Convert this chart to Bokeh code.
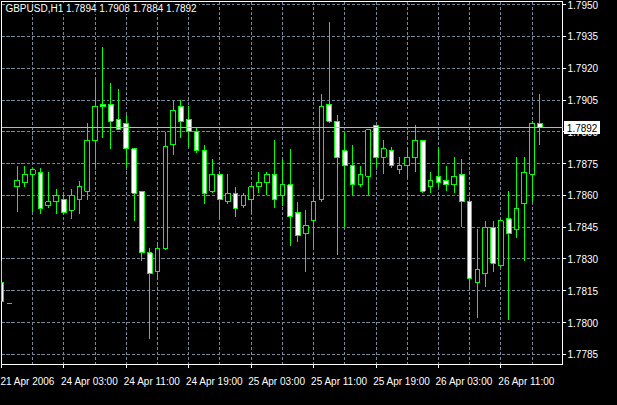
from bokeh.plotting import figure
from bokeh.models import (Range1d, FixedTicker, Span, Label, LinearAxis,
                          GlobalInlineStyleSheet, InlineStyleSheet, ColumnDataSource)
from bokeh.embed import file_html
from bokeh.resources import INLINE

symbol = "GBPUSD,H1"

opens = [1.7819, 1.7809, 1.7864, 1.7866, 1.7870, 1.7871, 1.7855, 1.7857, 1.7858, 1.7853,
         1.7858, 1.7862, 1.7886, 1.7903, 1.7903, 1.7896, 1.7894, 1.7882, 1.7862, 1.7833,
         1.7824, 1.7835, 1.7884, 1.7902, 1.7896, 1.7890, 1.7881, 1.7862, 1.7870, 1.7857,
         1.7861, 1.7855, 1.7858, 1.7864, 1.7866, 1.7870, 1.7860, 1.7865, 1.7852, 1.7842,
         1.7848, 1.7858, 1.7903, 1.7895, 1.7881, 1.7874, 1.7865, 1.7869, 1.7893, 1.7878,
         1.7881, 1.7872, 1.7874, 1.7878, 1.7886, 1.7864, 1.7869, 1.7867, 1.7865, 1.7870,
         1.7857, 1.7819, 1.7823, 1.7845, 1.7827, 1.7849, 1.7844, 1.7856, 1.7870, 1.7894]
highs = [1.7829, 1.7809, 1.7874, 1.7874, 1.7873, 1.7873, 1.7871, 1.7863, 1.7860, 1.7863,
         1.7867, 1.7894, 1.7915, 1.7930, 1.7913, 1.7910, 1.7898, 1.7882, 1.7862, 1.7835,
         1.7838, 1.7890, 1.7905, 1.7905, 1.7902, 1.7892, 1.7884, 1.7877, 1.7870, 1.7870,
         1.7864, 1.7861, 1.7865, 1.7871, 1.7871, 1.7886, 1.7877, 1.7882, 1.7857, 1.7853,
         1.7864, 1.7908, 1.7942, 1.7898, 1.7890, 1.7884, 1.7874, 1.7891, 1.7893, 1.7886,
         1.7883, 1.7878, 1.7883, 1.7893, 1.7886, 1.7871, 1.7883, 1.7874, 1.7878, 1.7877,
         1.7858, 1.7844, 1.7848, 1.7848, 1.7849, 1.7862, 1.7878, 1.7878, 1.7895, 1.7908]
lows = [1.7810, 1.7809, 1.7852, 1.7864, 1.7852, 1.7851, 1.7854, 1.7851, 1.7851, 1.7849,
        1.7851, 1.7858, 1.7873, 1.7887, 1.7882, 1.7891, 1.7873, 1.7848, 1.7829, 1.7792,
        1.7820, 1.7834, 1.7879, 1.7887, 1.7883, 1.7880, 1.7856, 1.7861, 1.7849, 1.7856,
        1.7850, 1.7854, 1.7851, 1.7861, 1.7860, 1.7854, 1.7855, 1.7836, 1.7838, 1.7824,
        1.7835, 1.7857, 1.7894, 1.7832, 1.7845, 1.7860, 1.7864, 1.7860, 1.7873, 1.7870,
        1.7873, 1.7870, 1.7868, 1.7871, 1.7861, 1.7861, 1.7864, 1.7862, 1.7861, 1.7845,
        1.7816, 1.7802, 1.7817, 1.7824, 1.7826, 1.7801, 1.7840, 1.7829, 1.7857, 1.7884]
closes = [1.7810, 1.7809, 1.7867, 1.7870, 1.7872, 1.7854, 1.7857, 1.7860, 1.7852, 1.7860,
          1.7864, 1.7886, 1.7902, 1.7902, 1.7895, 1.7891, 1.7882, 1.7861, 1.7833, 1.7823,
          1.7835, 1.7883, 1.7900, 1.7895, 1.7890, 1.7881, 1.7861, 1.7870, 1.7858, 1.7861,
          1.7854, 1.7860, 1.7864, 1.7866, 1.7870, 1.7858, 1.7865, 1.7850, 1.7841, 1.7846,
          1.7857, 1.7902, 1.7895, 1.7878, 1.7874, 1.7865, 1.7870, 1.7891, 1.7878, 1.7882,
          1.7874, 1.7874, 1.7878, 1.7886, 1.7862, 1.7867, 1.7866, 1.7865, 1.7869, 1.7857,
          1.7821, 1.7825, 1.7845, 1.7828, 1.7848, 1.7842, 1.7854, 1.7871, 1.7894, 1.7892]

time_tick_index = [0, 8, 16, 24, 32, 40, 48, 56, 64]
time_tick_labels = ["21 Apr 2006", "24 Apr 03:00", "24 Apr 11:00", "24 Apr 19:00",
                    "25 Apr 03:00", "25 Apr 11:00", "25 Apr 19:00", "26 Apr 03:00",
                    "26 Apr 11:00"]
time_grid_index = [4, 8, 12, 16, 20, 24, 28, 32, 36, 40, 44, 48, 52, 56, 60, 64, 68]
price_ticks = [1.7785, 1.7800, 1.7815, 1.7830, 1.7845, 1.7860, 1.7875, 1.7890,
               1.7905, 1.7920, 1.7935, 1.7950]
price_tick_labels = ["1.7785", "1.7800", "1.7815", "1.7830", "1.7845", "1.7860",
                     "1.7875", "1.7890", "1.7905", "1.7920", "1.7935", "1.7950"]

bar_index = list(range(len(opens)))
tops = [max(o, c) for o, c in zip(opens, closes)]
bottoms = [min(o, c) for o, c in zip(opens, closes)]
fills = ["white" if c < o else "black" for o, c in zip(opens, closes)]
bid = closes[-1]

FONT = "Liberation Sans"
FS = "10px"
GREEN = "#00ff00"
LABEL_SHIFT = 3.3   # MT4 draws time labels to the right of their tick

src = ColumnDataSource(dict(x=bar_index, o=opens, h=highs, l=lows, c=closes,
                            top=tops, bottom=bottoms, fill=fills))

p = figure(width=601, height=389, output_backend="svg", toolbar_location=None,
           x_range=Range1d(0, 71.9), y_range=Range1d(1.77802, 1.79515),
           y_axis_location="right", background_fill_color="black",
           border_fill_color="black", min_border_left=1, min_border_top=1,
           min_border_right=38, min_border_bottom=20, outline_line_color="white")
p.stylesheets.append(GlobalInlineStyleSheet(
    css="html, body { background-color: #000; shape-rendering: crispEdges; }"))
p.stylesheets.append(InlineStyleSheet(
    css=":host, svg, svg * { shape-rendering: crispEdges; }"))

# grid
p.xgrid.ticker = FixedTicker(ticks=time_grid_index)
p.ygrid.ticker = FixedTicker(ticks=price_ticks)
for g in (p.xgrid, p.ygrid):
    g.grid_line_color = "#778899"
    g.grid_line_dash = "3 2"
    g.grid_line_width = 1

# bottom axis: tick marks only (labels not painted)
xa = p.xaxis[0]
xa.ticker = FixedTicker(ticks=time_tick_index)
xa.major_label_text_color = None
xa.major_label_text_font_size = "1px"
xa.major_label_standoff = 0
xa.axis_line_color = "white"
xa.major_tick_line_color = "white"
xa.major_tick_out = 3
xa.major_tick_in = 0
xa.minor_tick_line_color = None

# bid price box on the price axis (in a side panel so it is not clipped to the frame)
bid_box = Label(x=72.2, y=bid, text=f"{bid:.4f}", text_color="black",
                text_font=FONT, text_font_size=FS, text_baseline="middle",
                background_fill_color="white", border_line_color="white",
                padding=2)
p.add_layout(bid_box, "below")

# bottom axis: time labels, to the right of each tick (pulled up over the box panel)
label_pos = [k + LABEL_SHIFT for k in time_tick_index]
xl = LinearAxis(ticker=FixedTicker(ticks=label_pos),
                major_label_overrides=dict(zip(label_pos, time_tick_labels)),
                axis_line_color=None, major_tick_line_color=None,
                minor_tick_line_color=None, major_tick_out=0, major_tick_in=0,
                major_label_standoff=-4, major_label_text_color="white",
                major_label_text_font=FONT, major_label_text_font_size=FS)
p.add_layout(xl, "below")

# right price axis
ya = p.yaxis[0]
ya.ticker = FixedTicker(ticks=price_ticks)
ya.major_label_overrides = dict(zip(price_ticks, price_tick_labels))
ya.axis_line_color = "white"
ya.major_tick_line_color = "white"
ya.major_tick_out = 3
ya.major_tick_in = 0
ya.minor_tick_line_color = None
ya.major_label_text_color = "white"
ya.major_label_text_font = FONT
ya.major_label_text_font_size = FS
ya.major_label_standoff = 2

# bid line
p.add_layout(Span(location=bid, dimension="width", line_color="#b8b8c0", line_width=1))

# candles
p.segment(x0="x", y0="l", x1="x", y1="h", source=src, line_color=GREEN, line_width=1)
p.vbar(x="x", width=0.6, top="top", bottom="bottom", source=src,
       fill_color="fill", line_color=GREEN, line_width=1)

# header text
p.add_layout(Label(x=0.5, y=1.79508,
                   text=f"{symbol}  {opens[-1]:.4f} {highs[-1]:.4f} {lows[-1]:.4f} {closes[-1]:.4f}",
                   text_color="white", text_font=FONT, text_font_size=FS,
                   text_baseline="top", background_fill_color="black"))

open("out.html", "w").write(file_html(p, INLINE))
